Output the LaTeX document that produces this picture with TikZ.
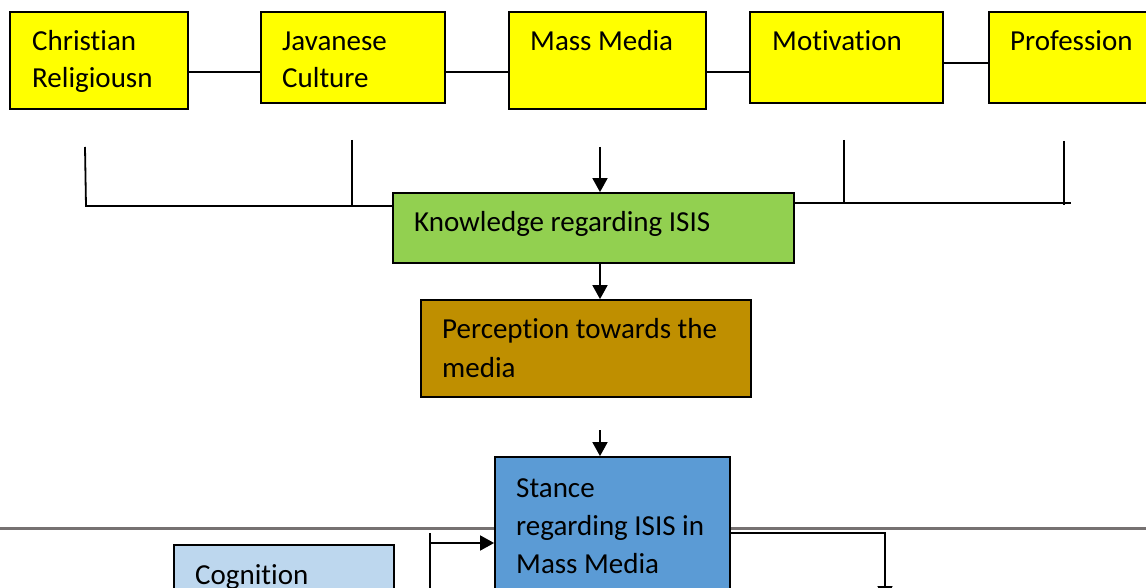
\documentclass[tikz,border=0pt]{standalone}
\usepackage{fontspec}
\setmainfont[Ligatures=NoCommon]{Carlito}
\usetikzlibrary{arrows.meta,fit}
\definecolor{cyellow}{HTML}{FFFF00}
\definecolor{cgreen}{HTML}{92D050}
\definecolor{cbrown}{HTML}{BF8F00}
\definecolor{cblue}{HTML}{5B9BD5}
\definecolor{clblue}{HTML}{BDD7EE}
\definecolor{cgray}{HTML}{767171}
\begin{document}
\begin{tikzpicture}[x=1pt,y=-1pt,
  box/.style={draw=black, line width=1.8pt, inner sep=0pt, rectangle},
  txt/.style={anchor=base west, inner sep=0pt, font=\fontsize{29}{36}\selectfont},
  conn/.style={draw=black, line width=1.8pt},
  arr/.style={conn, -{Triangle[width=15pt,length=14pt]}},
  sep/.style={draw=cgray, line width=3pt}]
\useasboundingbox (0,0) rectangle (1146,588);
\clip (0,0) rectangle (1146,588);
\fill[white] (0,0) rectangle (1146,588);

% separator line (behind boxes)
\coordinate (sepL) at (0,528);
\coordinate (sepR) at (1146,528);
\draw[sep] (sepL) -- (sepR);

% top row boxes
\node[box, fill=cyellow, fit={(10,12) (188,109)}] (chr) {};
\node[box, fill=cyellow, fit={(261,12) (445,103)}] (jav) {};
\node[box, fill=cyellow, fit={(509,12) (706,109)}] (mm) {};
\node[box, fill=cyellow, fit={(750,12) (943,103)}] (mot) {};
\node[box, fill=cyellow, fit={(989,12) (1152,103)}] (pro) {};

\node[txt] (chrT1) at (32,51) {Christian};
\node[txt] (chrT2) at (32,88) {Religiousn};
\node[txt] (javT1) at (282,51) {Javanese};
\node[txt] (javT2) at (282,88) {Culture};
\node[txt] (mmT) at (530,51) {Mass Media};
\node[txt] (motT) at (772,51) {Motivation};
\node[txt] (proT) at (1010,51) {Profession};

% links between top boxes
\draw[conn] (chr.east |- 0,72) -- (jav.west |- 0,72);
\draw[conn] (jav.east |- 0,72) -- (mm.west |- 0,72);
\draw[conn] (mm.east |- 0,72) -- (mot.west |- 0,72);
\draw[conn] (mot.east |- 0,63) -- (pro.west |- 0,63);

% middle boxes
\node[box, fill=cgreen, fit={(393,193) (794,263)}] (kn) {};
\node[txt] (knT) at (414,232) {Knowledge regarding ISIS};
\node[box, fill=cbrown, fit={(421,300) (751,397)}] (per) {};
\node[txt] (perT1) at (442,338) {Perception towards the};
\node[txt] (perT2) at (442,377) {media};

% bracket lines into knowledge
\coordinate (l1) at (85,147);
\coordinate (l1b) at (86,206);
\coordinate (l2) at (352,140);
\coordinate (l2b) at (352,206);
\draw[conn] (l1) -- (l1b) -- (kn.west |- l1b);
\draw[conn] (l2) -- (l2b);
\coordinate (r1) at (844,140);
\coordinate (r1b) at (844,204);
\coordinate (r2) at (1064,141);
\coordinate (r2b) at (1064,205);
\coordinate (rEnd) at (1071,203);
\draw[conn] (kn.east |- rEnd) -- (rEnd);
\draw[conn] (r1) -- (r1b);
\draw[conn] (r2) -- (r2b);

% arrows down the spine
\coordinate (a1) at (600,147);
\draw[arr] (a1) -- (a1 |- kn.north);
\draw[arr] (kn.south -| 600,0) -- (per.north -| 600,0);
\coordinate (a3) at (600,430);

% stance box
\node[box, fill=cblue, fit={(495,457) (730,610)}] (st) {};
\draw[arr] (a3) -- (a3 |- st.north);
\node[txt] (stT1) at (516,497) {Stance};
\node[txt] (stT2) at (516,535) {regarding ISIS in};
\node[txt] (stT3) at (516,573) {Mass Media};

% cognition box
\node[box, fill=clblue, fit={(174,545) (394,620)}] (cog) {};
\node[txt] (cogT) at (195,584) {Cognition};

% connectors in the lower part
\coordinate (cl1) at (430,600);
\coordinate (cl2) at (430,533);
\coordinate (cl3) at (430,543);
\draw[conn] (cl1) -- (cl2);
\draw[arr] (cl3) -- (cl3 -| st.west);
\coordinate (cr1) at (885,533);
\coordinate (cr2) at (885,600);
\draw[arr] (st.east |- cr1) -- (cr1) -- (cr2);
\end{tikzpicture}
\end{document}
